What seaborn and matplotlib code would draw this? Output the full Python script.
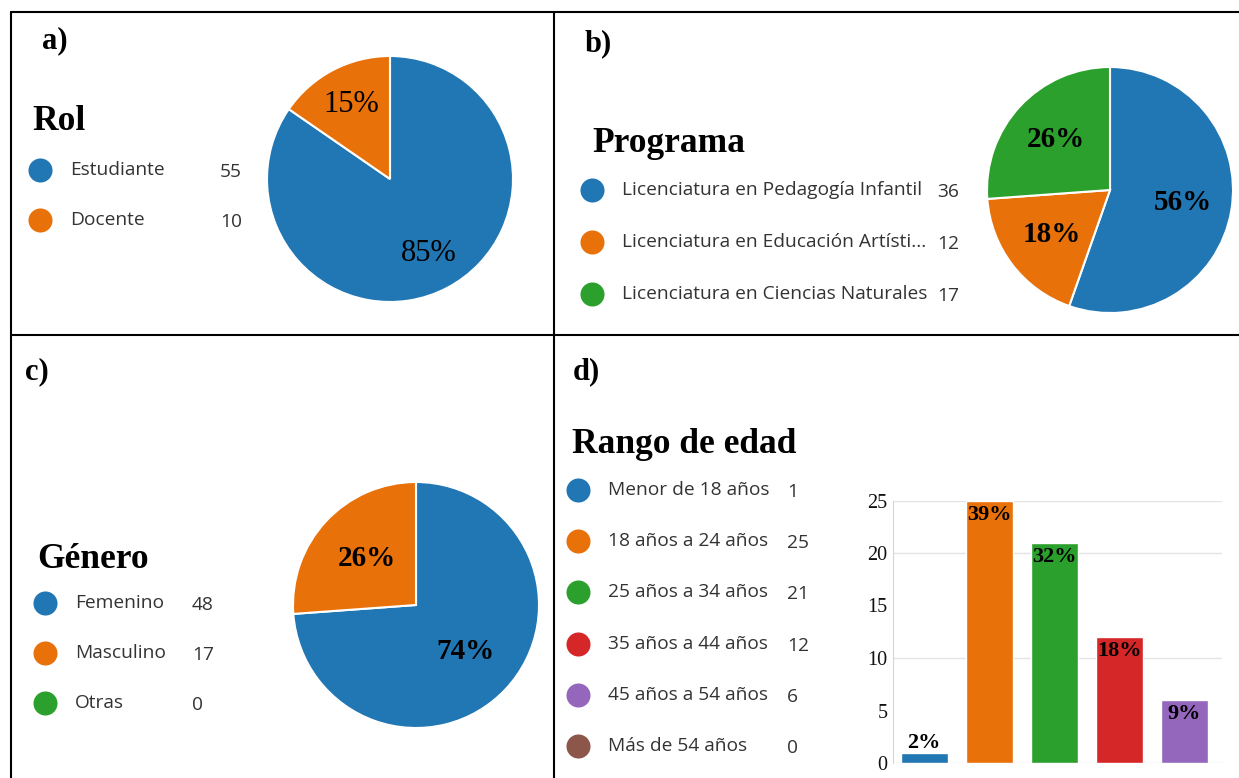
import numpy as np
import pandas as pd
import matplotlib.pyplot as plt
import seaborn as sns

sns.set_style('white')
plt.rcParams['font.family'] = ['Open Sans', 'DejaVu Sans']

# data
rol_labels = ['Estudiante', 'Docente']
rol_counts = [55, 10]
rol_pcts = ['85%', '15%']

prog_labels = ['Licenciatura en Pedagogía Infantil', 'Licenciatura en Educación Artísti...',
               'Licenciatura en Ciencias Naturales']
prog_counts = [36, 12, 17]
prog_pcts = ['56%', '18%', '26%']

gen_labels = ['Femenino', 'Masculino', 'Otras']
gen_counts = [48, 17, 0]
gen_pcts = ['74%', '26%', '']

edad_labels = ['Menor de 18 años', '18 años a 24 años', '25 años a 34 años',
               '35 años a 44 años', '45 años a 54 años', 'Más de 54 años']
edad_counts = [1, 25, 21, 12, 6, 0]
edad_pcts = ['2%', '39%', '32%', '18%', '9%', '']

colors = ['#2176b4', '#e8710a', '#2ca02c', '#d62728', '#9467bd', '#8c564b']

SERIF = ['Liberation Serif', 'DejaVu Serif']
W, H = 1239, 778
fig = plt.figure(figsize=(W / 100, H / 100), dpi=100)


def px_axes(x0, y0, x1, y1):
    return fig.add_axes([x0 / W, 1 - y1 / H, (x1 - x0) / W, (y1 - y0) / H])


# overlay in pixel coords for borders, titles and legends
ov = fig.add_axes([0, 0, 1, 1])
ov.set_xlim(0, W)
ov.set_ylim(H, 0)
ov.axis('off')
for xs, ys in [([11, W], [12, 12]), ([11, W], [335, 335]),
               ([11, 11], [12, H]), ([554, 554], [12, H])]:
    ov.plot(xs, ys, color='black', lw=1.5, clip_on=False)


def legend_block(letter, lx, ly, title, tx, ty, names, counts, cx, cy0, step, numx):
    ov.text(lx, ly, letter, family=SERIF, weight='bold', fontsize=22, va='center', color='black')
    ov.text(tx, ty + 3, title, family=SERIF, weight='bold', fontsize=25.5, va='center', color='black')
    for i, (n, c) in enumerate(zip(names, counts)):
        y = cy0 + i * step
        ov.scatter([cx], [y], s=300, color=colors[i], linewidths=0)
        ov.text(cx + 30, y, n, fontsize=13.8, color='#333333', va='center')
        ov.text(numx, y + 2, str(c), fontsize=13.8, color='#333333', va='center')


def draw_pie(cx, cy, r, counts, pcts, weight, size, dist):
    ax = px_axes(cx - r, cy - r, cx + r, cy + r)
    vals = [v for v in counts if v > 0]
    labs = iter([p for v, p in zip(counts, pcts) if v > 0])
    ax.pie(vals, colors=colors[:len(vals)], startangle=90, counterclock=False,
           autopct=lambda p: next(labs), pctdistance=dist,
           wedgeprops=dict(edgecolor='white', linewidth=1.5),
           textprops=dict(family=SERIF, weight=weight, fontsize=size, color='black'))
    ax.set_xlim(-1, 1)
    ax.set_ylim(-1, 1)
    return ax


# a) Rol
legend_block('a)', 42, 41, 'Rol', 32, 118, rol_labels, rol_counts, 40, 170, 50, 220)
draw_pie(390, 179, 123, rol_counts, rol_pcts, 'normal', 22, 0.68)

# b) Programa
legend_block('b)', 585, 44, 'Programa', 592, 140, prog_labels, prog_counts, 592, 190, 52, 937)
draw_pie(1110, 190, 123, prog_counts, prog_pcts, 'bold', 21, 0.6)

# c) Genero
legend_block('c)', 25, 372, 'Género', 37, 556, gen_labels, gen_counts, 45, 603, 50, 192)
draw_pie(416, 605, 123, gen_counts, gen_pcts, 'bold', 21, 0.55)

# d) Rango de edad
legend_block('d)', 573, 372, 'Rango de edad', 572, 441, edad_labels, edad_counts, 578, 490, 51.2, 787)

df = pd.DataFrame({'rango': edad_labels, 'n': edad_counts, 'pct': edad_pcts})
df = df[df['n'] > 0]
ax = px_axes(893, 500.5, 1222, 763)
sns.barplot(data=df, x='rango', y='n', hue='rango', palette=colors[:len(df)],
            saturation=1, width=0.72, legend=False, ax=ax, zorder=2)
for y in (0, 10, 20, 25):
    ax.axhline(y, color='#e4e4e4', lw=1, zorder=0)
ax.set_ylim(0, 25)
ax.set_xlim(-0.48, 4.58)
ax.set_yticks(range(0, 26, 5))
ax.set_yticklabels([str(v) for v in range(0, 26, 5)], family=SERIF, fontsize=14.5, color='#111111')
ax.tick_params(axis='y', length=0, pad=4)
ax.set_xticks([])
ax.set_xlabel('')
ax.set_ylabel('')
for s in ['top', 'right', 'bottom']:
    ax.spines[s].set_visible(False)
ax.spines['left'].set_color('#d6d6d6')
ax.spines['left'].set_linewidth(0.8)

bars = [p for c in ax.containers for p in c]
for bar, lab in zip(bars, df['pct']):
    h = bar.get_height()
    xc = bar.get_x() + bar.get_width() / 2
    if h > 3:
        ax.annotate(lab, (xc, h), xytext=(0, -3), textcoords='offset points', ha='center', va='top',
                    family=SERIF, weight='bold', fontsize=16, color='black')
    else:
        ax.annotate(lab, (xc, h), xytext=(0, 0), textcoords='offset points', ha='center', va='bottom',
                    family=SERIF, weight='bold', fontsize=16, color='black')

fig.savefig('out.png', dpi=100, facecolor='white')
